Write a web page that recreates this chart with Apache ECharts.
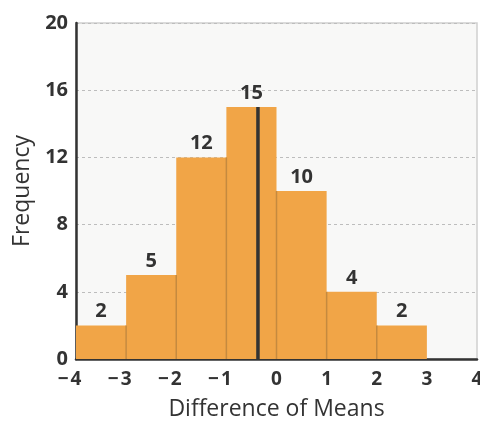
<!DOCTYPE html>
<html>
<head>
<meta charset="utf-8">
<script src="https://cdn.jsdelivr.net/npm/echarts@6/dist/echarts.min.js"></script>
<style>
  html, body { margin: 0; padding: 0; background: #ffffff; }
  #chart { width: 480px; height: 421px; }
</style>
</head>
<body>
<div id="chart"></div>
<script>
// Histogram bins (left edge, right edge) and their frequencies
const binStarts = [-4, -3, -2, -1, 0, 1, 2];
const binEnds = [-3, -2, -1, 0, 1, 2, 3];
const frequencies = [2, 5, 12, 15, 10, 4, 2];
// Observed difference of means, marked with a vertical line
const observedDiff = [-0.37];
const xTicks = [-4, -3, -2, -1, 0, 1, 2, 3, 4];
const yTicks = [0, 4, 8, 12, 16, 20];

const FONT = '"Open Sans", "Noto Sans", sans-serif';
const BAR_FILL = '#F1A547';
const BAR_EDGE = '#C58A3F';
const INK = '#333333';

const binData = binStarts.map((s, i) => [s, binEnds[i], frequencies[i], i > 0 ? frequencies[i - 1] : 0]);

const chart = echarts.init(document.getElementById('chart'), null, { renderer: 'canvas' });

const tickLabelStyle = { fontFamily: FONT, fontSize: 19, fontWeight: 'bold', color: INK };

chart.setOption({
  animation: false,
  grid: {
    left: 76, right: 3, top: 23, bottom: 62,
    outerBoundsMode: 'none',
    show: true, backgroundColor: '#f8f8f7', borderColor: '#cfcfcf', borderWidth: 1.5
  },
  xAxis: {
    type: 'value', min: xTicks[0], max: xTicks[xTicks.length - 1], interval: 1,
    name: 'Difference of Means', nameLocation: 'middle', nameGap: 39,
    nameTextStyle: { fontFamily: FONT, fontSize: 23, color: INK },
    axisLine: { show: true, onZero: false, lineStyle: { color: INK, width: 2.5 } },
    axisTick: { show: false },
    splitLine: { show: false },
    axisLabel: {
      margin: 11,
      // keep the digit centred on its tick; the minus sign hangs to the left
      formatter: v => (v < 0 ? '{m|\u2212}{d|' + Math.abs(v) + '}{s|}' : '{d|' + v + '}'),
      rich: {
        m: Object.assign({ width: 15, align: 'right' }, tickLabelStyle),
        d: Object.assign({}, tickLabelStyle),
        s: Object.assign({ width: 15 }, tickLabelStyle)
      }
    }
  },
  yAxis: {
    type: 'value', min: yTicks[0], max: yTicks[yTicks.length - 1], interval: 4,
    name: 'Frequency', nameLocation: 'middle', nameGap: 41, nameRotate: 90,
    nameTextStyle: { fontFamily: FONT, fontSize: 23, color: INK },
    axisLine: { show: true, onZero: false, lineStyle: { color: INK, width: 2.5 } },
    axisTick: { show: false },
    splitLine: { show: true, lineStyle: { color: '#bdbdbd', type: [3, 3], width: 1 } },
    axisLabel: { fontFamily: FONT, fontSize: 20, fontWeight: 'bold', color: INK, margin: 8 }
  },
  series: [
    {
      type: 'custom',
      data: binData,
      encode: { x: [0, 1], y: 2 },
      renderItem: function (params, api) {
        const x0 = api.value(0), x1 = api.value(1), h = api.value(2), prev = api.value(3);
        const p0 = api.coord([x0, 0]);
        const p1 = api.coord([x1, h]);
        const children = [{
          type: 'rect',
          shape: { x: p0[0], y: p1[1], width: p1[0] - p0[0], height: p0[1] - p1[1] },
          style: { fill: BAR_FILL }
        }];
        if (prev > 0) {
          const top = api.coord([x0, Math.min(prev, h)]);
          children.push({
            type: 'line',
            shape: { x1: p0[0], y1: p0[1], x2: p0[0], y2: top[1] },
            style: { stroke: BAR_EDGE, lineWidth: 1.5 }
          });
        }
        const c = api.coord([(x0 + x1) / 2, h]);
        children.push({
          type: 'text',
          style: {
            x: c[0], y: c[1] - 4, text: String(h),
            align: 'center', verticalAlign: 'bottom',
            font: 'bold 20px ' + FONT, fill: INK
          }
        });
        return { type: 'group', children: children };
      },
      z: 2
    },
    {
      type: 'custom',
      data: observedDiff.map(v => [v]),
      encode: { x: 0 },
      renderItem: function (params, api) {
        const v = api.value(0);
        const b = api.coord([v, 0]);
        const t = api.coord([v, frequencies[3]]);
        return {
          type: 'line',
          shape: { x1: b[0], y1: b[1], x2: t[0], y2: t[1] },
          style: { stroke: INK, lineWidth: 3.5 }
        };
      },
      z: 3
    }
  ]
});
</script>
</body>
</html>
